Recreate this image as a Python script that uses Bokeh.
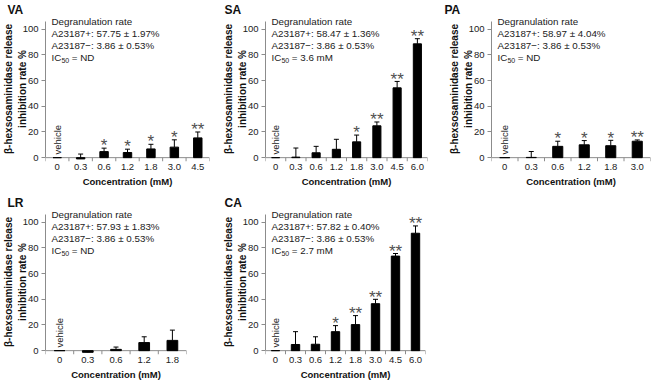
import math
from bokeh.plotting import figure
from bokeh.layouts import column, row
from bokeh.models import FixedTicker, Label, ColumnDataSource, Range1d
from bokeh.embed import file_html
from bokeh.resources import INLINE
from bokeh.core.properties import value

# ---------------- data ----------------
va_conc = ["0", "0.3", "0.6", "1.2", "1.8", "3.0", "4.5"]
va_mean = [0, -1.0, 4.7, 4.0, 6.8, 8.2, 15.4]
va_sd = [0, 3.8, 2.7, 2.6, 3.6, 5.7, 4.6]
va_sig = ["", "", "*", "*", "*", "*", "**"]

sa_conc = ["0", "0.3", "0.6", "1.2", "1.8", "3.0", "4.5", "6.0"]
sa_mean = [0, 0.4, 3.8, 6.5, 12.3, 24.8, 54.4, 88.7]
sa_sd = [0, 7.1, 5.0, 7.8, 5.3, 3.0, 5.0, 4.0]
sa_sig = ["", "", "", "", "*", "**", "**", "**"]

pa_conc = ["0", "0.3", "0.6", "1.2", "1.8", "3.0"]
pa_mean = [0, 0.2, 8.8, 10.0, 9.3, 12.8]
pa_sd = [0, 4.6, 4.0, 3.3, 4.2, 1.0]
pa_sig = ["", "", "*", "*", "*", "**"]

lr_conc = ["0", "0.3", "0.6", "1.2", "1.8"]
lr_mean = [0, -1.3, 1.0, 6.3, 8.0]
lr_sd = [0, 0.5, 1.8, 4.5, 8.0]
lr_sig = ["", "", "", "", ""]

ca_conc = ["0", "0.3", "0.6", "1.2", "1.8", "3.0", "4.5", "6.0"]
ca_mean = [0, 4.8, 5.0, 14.8, 20.3, 36.6, 73.7, 91.5]
ca_sd = [0, 10.0, 5.8, 4.7, 7.0, 3.4, 2.0, 5.7]
ca_sig = ["", "", "", "*", "**", "**", "**", "**"]

panel_names = ["VA", "SA", "PA", "LR", "CA"]
plus_rates = ["57.75 ± 1.97%", "58.47 ± 1.36%", "58.97 ± 4.04%", "57.93 ± 1.83%", "57.82 ± 0.40%"]
minus_rate = "3.86 ± 0.53%"
ic50_values = ["ND", "3.6 mM", "ND", "ND", "2.7 mM"]
y_ticks = [0, 20, 40, 60, 80, 100]

FONT = "Liberation Sans"
AXIS_COLOR = "#8c8c8c"
TEXT_COLOR = "#1a1a1a"


def panel(name, conc, mean, sd, sig, plus, ic50, frame_w, bl, br, bb, bar_w):
    n = len(conc)
    p = figure(frame_width=frame_w, frame_height=145,
               min_border_left=bl, min_border_right=br,
               min_border_top=14, min_border_bottom=bb,
               x_range=Range1d(-0.5, n - 0.5), y_range=Range1d(-3, 110),
               output_backend="svg", toolbar_location=None, tools="")
    p.title.text = name
    p.title.align = "left"
    p.title.offset = -bl + 1
    p.title.text_font = FONT
    p.title.text_font_size = "12px"
    p.title.text_font_style = "bold"
    p.title.text_color = "#111111"
    try:
        p.title.standoff = 0
    except Exception:
        pass
    p.outline_line_color = None
    p.xgrid.visible = False
    p.ygrid.visible = False
    p.background_fill_color = "white"
    p.border_fill_color = "white"

    # y axis
    yax = p.yaxis[0]
    yax.ticker = FixedTicker(ticks=y_ticks, minor_ticks=[])
    yax.bounds = (0, 106)
    yax.axis_line_color = AXIS_COLOR
    yax.major_tick_line_color = AXIS_COLOR
    yax.major_tick_out = 4
    yax.major_tick_in = 0
    yax.minor_tick_line_color = None
    yax.major_label_text_font = FONT
    yax.major_label_text_font_size = "9.5px"
    yax.major_label_text_color = "#222222"
    yax.major_label_standoff = 3
    yax.axis_label = "β-hexsosaminidase release\ninhibition rate %"
    yax.axis_label_text_font = FONT
    yax.axis_label_text_font_size = "10px"
    yax.axis_label_text_font_style = "bold"
    yax.axis_label_text_color = "#111111"
    yax.axis_label_standoff = -8

    # x axis (labels only; line and boundary ticks drawn at y=0)
    xax = p.xaxis[0]
    xax.ticker = FixedTicker(ticks=list(range(n)), minor_ticks=[])
    xax.major_label_overrides = {i: c for i, c in enumerate(conc)}
    xax.axis_line_color = None
    xax.major_tick_line_color = None
    xax.minor_tick_line_color = None
    xax.major_tick_out = 0
    xax.major_label_standoff = 2
    xax.major_label_text_font = FONT
    xax.major_label_text_font_size = "9.5px"
    xax.major_label_text_color = "#222222"
    xax.axis_label = "Concentration (mM)"
    xax.axis_label_text_font = FONT
    xax.axis_label_text_font_size = "9.5px"
    xax.axis_label_text_font_style = "bold"
    xax.axis_label_text_color = "#111111"
    xax.axis_label_standoff = 3

    xs = list(range(n))
    p.segment(x0=[-0.5], y0=[0], x1=[n - 0.5], y1=[0], line_color=AXIS_COLOR, line_width=1)
    bx = [k - 0.5 for k in range(n + 1)]
    p.segment(x0=bx, y0=[0] * len(bx), x1=bx, y1=[-3] * len(bx), line_color=AXIS_COLOR, line_width=1)

    src = ColumnDataSource(dict(x=xs, top=mean))
    p.vbar(x="x", top="top", bottom=0, width=bar_w, source=src,
           fill_color="black", line_color="black")

    ei = [i for i in range(n) if sd[i] > 0]
    ex = [xs[i] for i in ei]
    y0 = [mean[i] for i in ei]
    y1 = [mean[i] + sd[i] for i in ei]
    p.segment(x0=ex, y0=y0, x1=ex, y1=y1, line_color="black", line_width=1)
    p.scatter(x=ex, y=y1, marker="dash", size=5, line_color="black", line_width=1)

    si = [i for i in range(n) if sig[i]]
    ssrc = ColumnDataSource(dict(x=[xs[i] for i in si],
                                 y=[mean[i] + sd[i] + 1.8 for i in si],
                                 t=[sig[i] for i in si]))
    p.text(x="x", y="y", text="t", source=ssrc, text_align="center",
           text_baseline="alphabetic", text_font=value(FONT),
           text_font_size="17px", text_color="#505050")

    # vehicle label
    p.add_layout(Label(x=0, y=2.5, text="vehicle", angle=math.pi / 2,
                       text_align="left", text_baseline="middle",
                       text_font=FONT, text_font_size="9.5px", text_color=TEXT_COLOR))

    # info block
    lines = [("Degranulation rate", 106.3),
             ("A23187+: " + plus, 96.9),
             ("A23187−: " + minus_rate, 87.5)]
    for t, yy in lines:
        p.add_layout(Label(x=-0.5, y=yy, x_offset=6, text=t,
                           text_align="left", text_baseline="middle",
                           text_font=FONT, text_font_size="9.8px", text_color=TEXT_COLOR))
    p.add_layout(Label(x=-0.5, y=78.1, x_offset=6, text="IC",
                       text_align="left", text_baseline="middle",
                       text_font=FONT, text_font_size="9.8px", text_color=TEXT_COLOR))
    p.add_layout(Label(x=-0.5, y=75.7, x_offset=15.9, text="50",
                       text_align="left", text_baseline="middle",
                       text_font=FONT, text_font_size="7px", text_color=TEXT_COLOR))
    p.add_layout(Label(x=-0.5, y=78.1, x_offset=26.3, text="= " + ic50,
                       text_align="left", text_baseline="middle",
                       text_font=FONT, text_font_size="9.8px", text_color=TEXT_COLOR))
    return p


f1 = panel(panel_names[0], va_conc, va_mean, va_sd, va_sig, plus_rates[0], ic50_values[0],
           164, 39, 11, 32, 0.36)
f2 = panel(panel_names[1], sa_conc, sa_mean, sa_sd, sa_sig, plus_rates[1], ic50_values[1],
           162, 42, 16, 32, 0.40)
f3 = panel(panel_names[2], pa_conc, pa_mean, pa_sd, pa_sig, plus_rates[2], ic50_values[2],
           159, 48, 3, 32, 0.38)
f4 = panel(panel_names[3], lr_conc, lr_mean, lr_sd, lr_sig, plus_rates[3], ic50_values[3],
           141, 39, 34, 26, 0.38)
f5 = panel(panel_names[4], ca_conc, ca_mean, ca_sd, ca_sig, plus_rates[4], ic50_values[4],
           160, 42, 18, 26, 0.42)

layout = column(row(f1, f2, f3), row(f4, f5))
open("out.html", "w").write(file_html(layout, INLINE))
